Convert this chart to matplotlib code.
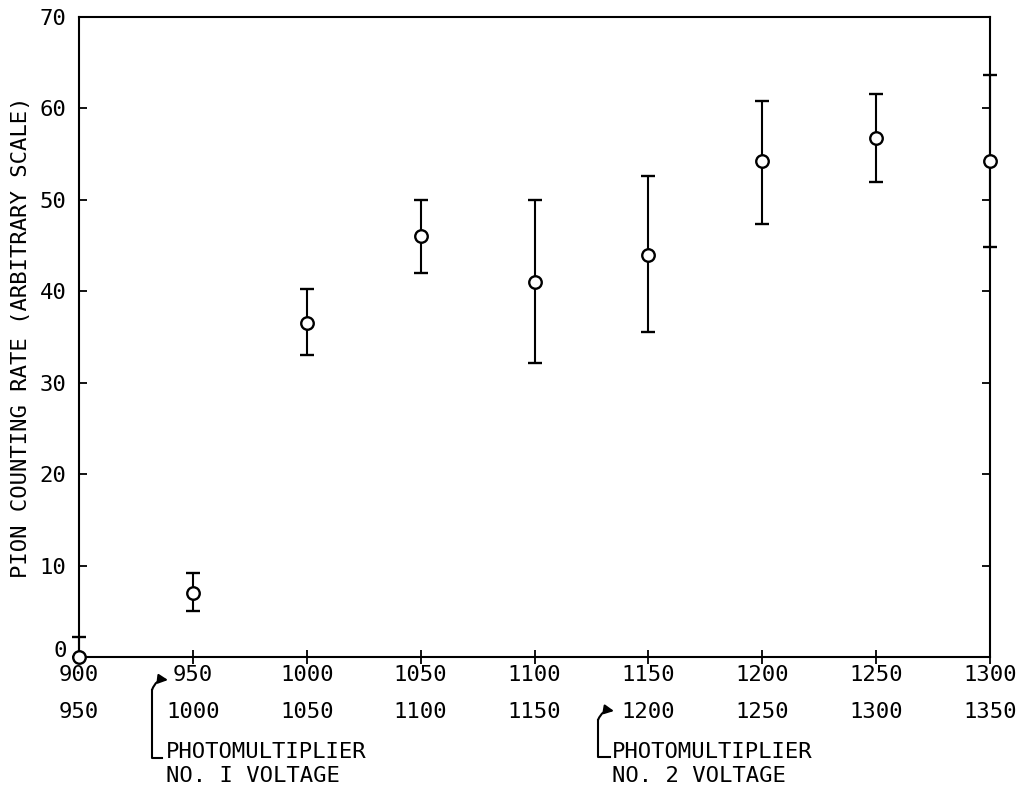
import numpy as np
import matplotlib.pyplot as plt
from matplotlib.lines import Line2D
from matplotlib.patches import FancyArrowPatch

plt.rcParams['font.family'] = ['DejaVu Sans Mono']

# Pion counting rate vs photomultiplier voltage
volt1 = [900, 950, 1000, 1050, 1100, 1150, 1200, 1250, 1300]
volt2 = [950, 1000, 1050, 1100, 1150, 1200, 1250, 1300, 1350]
rate = [0, 7, 36.5, 46, 41, 44, 54.2, 56.8, 54.2]
err_low = [0, 5.0, 33.0, 42.0, 32.2, 35.6, 47.4, 52.0, 44.8]
err_high = [2.2, 9.2, 40.2, 50.0, 50.0, 52.6, 60.8, 61.6, 63.7]

W, H = 1025, 793
fig = plt.figure(figsize=(W / 100, H / 100), dpi=100)
ax = fig.add_axes([79 / W, 1 - 657 / H, (990 - 79) / W, (657 - 17) / H])

rate = np.array(rate)
yerr = [rate - np.array(err_low), np.array(err_high) - rate]
ax.errorbar(volt1, rate, yerr=yerr, fmt='o', color='black', mfc='white',
            mec='black', ms=9, mew=1.7, elinewidth=1.5, capsize=5,
            capthick=1.5, clip_on=False, zorder=3)

ax.set_xlim(900, 1300)
ax.set_ylim(0, 70)
ax.set_yticks(range(0, 71, 10))
ax.set_xticks(volt1)
ax.set_xticklabels([f"{a}\n{b}" for a, b in zip(volt1, volt2)])
for lbl in ax.get_xticklabels():
    lbl.set_linespacing(2.05)

for s in ax.spines.values():
    s.set_linewidth(1.5)
ax.tick_params(axis='both', labelsize=16, width=1.3, length=6)
ax.tick_params(axis='x', direction='inout', pad=1, length=10)
ax.tick_params(axis='y', direction='in', right=True, pad=9)
ax.get_yticklabels()[0].set_verticalalignment('baseline')
ax.set_ylabel("PION COUNTING RATE (ARBITRARY SCALE)", fontsize=16, labelpad=6)


def px(x, y):
    return x / W, 1 - y / H


def bracket(x0, y_top, y_bot, x_end, arrow_to):
    xs, ys = zip(px(x_end, y_bot), px(x0, y_bot), px(x0, y_top))
    fig.add_artist(Line2D(xs, ys, color='black', lw=1.5,
                          transform=fig.transFigure))
    fig.add_artist(FancyArrowPatch(
        px(x0, y_top), px(*arrow_to), transform=fig.transFigure,
        arrowstyle='-|>', mutation_scale=14, color='black', lw=1.5,
        shrinkA=0, shrinkB=0, connectionstyle='arc3,rad=-0.4'))


bracket(152, 690, 758, 162, (168, 680))
fig.text(*px(166, 764), "PHOTOMULTIPLIER\nNO. I VOLTAGE", fontsize=16,
         ha='left', va='center', linespacing=1.25)

bracket(598, 720, 757, 610, (614, 711))
fig.text(*px(612, 764), "PHOTOMULTIPLIER\nNO. 2 VOLTAGE", fontsize=16,
         ha='left', va='center', linespacing=1.25)

fig.savefig("out.png", dpi=100)
